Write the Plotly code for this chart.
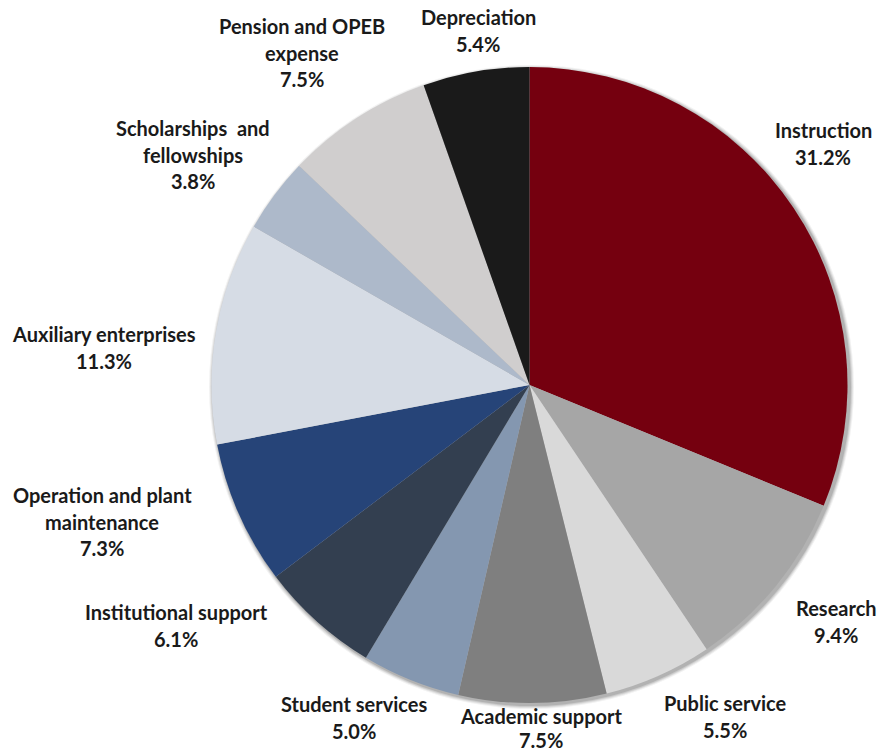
import plotly.graph_objects as go

# Expense categories (clockwise from 12 o'clock) and their share of total, %
categories = [
    "Instruction",
    "Research",
    "Public service",
    "Academic support",
    "Student services",
    "Institutional support",
    "Operation and plant maintenance",
    "Auxiliary enterprises",
    "Scholarships and fellowships",
    "Pension and OPEB expense",
    "Depreciation",
]
shares = [31.2, 9.4, 5.5, 7.5, 5.0, 6.1, 7.3, 11.3, 3.8, 7.5, 5.4]

# Wrapped label lines for each category
label_lines = [
    ["Instruction"],
    ["Research"],
    ["Public service"],
    ["Academic support"],
    ["Student services"],
    ["Institutional support"],
    ["Operation and plant", "maintenance"],
    ["Auxiliary enterprises"],
    ["Scholarships  and", "fellowships"],
    ["Pension and OPEB", "expense"],
    ["Depreciation"],
]

colors = [
    "#75000F", "#A6A6A6", "#D9D9D9", "#7F7F7F", "#8497B0", "#333F50",
    "#264478", "#D6DCE5", "#ADB9CA", "#D0CECE", "#1A1A1A",
]

W, H = 877, 755
# Pie bounding square in pixels
PIE_L, PIE_R, PIE_T, PIE_B = 211, 848, 67, 703

# Label block anchors (center x, first line y, line step) in pixels
label_anchor = [
    (823, 130, 26.5), (836, 608, 26.5), (725, 703, 26.5), (541, 716, 24),
    (354, 704, 26.5), (176, 612, 26.5), (102, 495, 26.5), (104, 334, 26.5),
    (193, 128, 26.5), (302, 26, 26.5), (478, 17, 26.5),
]
FONT = dict(family="Lato, 'Open Sans', sans-serif", size=20, color="#1a1a1a")

fig = go.Figure(
    go.Pie(
        labels=categories,
        values=shares,
        sort=False,
        direction="clockwise",
        rotation=0,
        marker=dict(colors=colors, line=dict(width=0)),
        textinfo="none",
        hoverinfo="label+percent",
        showlegend=False,
        domain=dict(
            x=[PIE_L / W, PIE_R / W],
            y=[1 - PIE_B / H, 1 - PIE_T / H],
        ),
    )
)

# Soft shadow behind the pie
shapes = []
for grow, op in [(4, 0.05), (3, 0.07), (2, 0.09), (1, 0.12)]:
    dx, dy = 2, 2
    shapes.append(dict(
        type="circle", xref="paper", yref="paper", layer="below",
        x0=(PIE_L - grow + dx) / W, x1=(PIE_R + grow + dx) / W,
        y0=1 - (PIE_B + grow + dy) / H, y1=1 - (PIE_T - grow + dy) / H,
        fillcolor="black", opacity=op, line=dict(width=0),
    ))

annotations = []
for lines, val, (ax, ay, step) in zip(label_lines, shares, label_anchor):
    for k, txt in enumerate(lines + [f"{val:.1f}%"]):
        annotations.append(dict(
            x=ax / W, y=1 - (ay + k * step) / H,
            xref="paper", yref="paper",
            text=f"<b>{txt}</b>", showarrow=False,
            xanchor="center", yanchor="middle", font=FONT,
        ))

fig.update_layout(
    width=W, height=H,
    margin=dict(l=0, r=0, t=0, b=0),
    paper_bgcolor="white", plot_bgcolor="white",
    shapes=shapes, annotations=annotations,
)

fig.write_html("out.html")
